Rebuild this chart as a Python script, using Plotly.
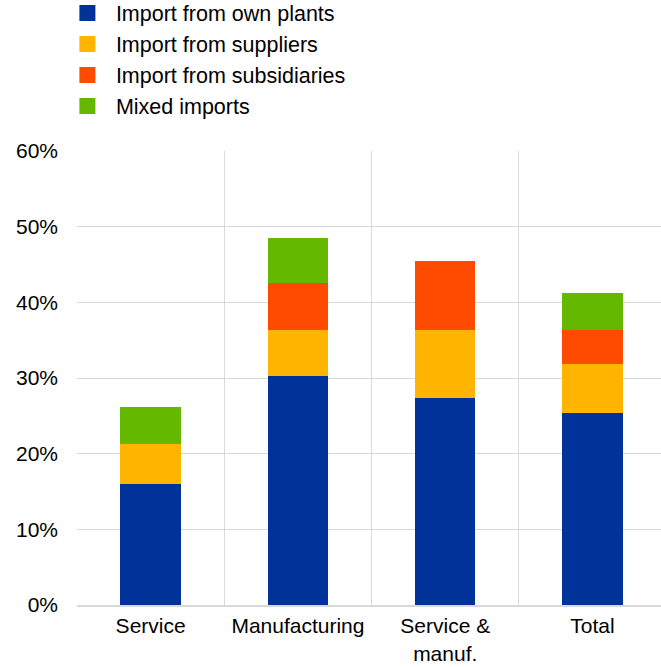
import plotly.graph_objects as go

# Share of firms importing, by sector and import channel (%)
categories = ["Service", "Manufacturing", "Service &<br>manuf.", "Total"]
own_plants = [16.0, 30.3, 27.3, 25.4]
suppliers = [5.3, 6.1, 9.1, 6.4]
subsidiaries = [0.0, 6.1, 9.1, 4.6]
mixed = [4.9, 6.0, 0.0, 4.9]

series = [
    ("Import from own plants", own_plants, "#003299"),
    ("Import from suppliers", suppliers, "#FFB400"),
    ("Import from subsidiaries", subsidiaries, "#FF4B00"),
    ("Mixed imports", mixed, "#65B800"),
]

font_family = "Arial, Liberation Sans, sans-serif"

fig = go.Figure()
for name, vals, color in series:
    fig.add_trace(go.Bar(
        x=categories, y=vals, name=name,
        marker=dict(color=color, line=dict(width=0)),
        width=0.41, legendgroup=name, showlegend=False,
    ))
    # square legend key for the series (larger than the default bar swatch)
    fig.add_trace(go.Scatter(
        x=[None], y=[None], mode="markers", name=name,
        marker=dict(symbol="square", size=16, color=color),
        legendgroup=name, showlegend=True, hoverinfo="skip",
    ))

fig.update_layout(
    width=661, height=667,
    barmode="stack",
    paper_bgcolor="white", plot_bgcolor="white",
    margin=dict(l=77, r=0, t=151, b=62, autoexpand=False),
    font=dict(family=font_family, color="#000000", size=20),
    legend=dict(
        x=-0.031, y=1.349, xanchor="left", yanchor="top",
        traceorder="grouped", tracegroupgap=0,
        font=dict(size=21.5), bgcolor="rgba(0,0,0,0)",
        itemwidth=47, itemsizing="trace",
    ),
    xaxis=dict(
        type="category", range=[-0.5, 3.465],
        tickson="boundaries", ticks="", showgrid=True,
        gridcolor="#d9d9d9", gridwidth=1,
        showline=True, linecolor="#d9d9d9", linewidth=2,
        tickfont=dict(size=21), ticklabelstandoff=1,
    ),
    yaxis=dict(
        range=[0, 60], dtick=10, ticksuffix="%",
        showgrid=True, gridcolor="#d9d9d9", gridwidth=1,
        zeroline=False, showline=False,
        tickfont=dict(size=21), ticklabelstandoff=18,
    ),
)

fig.write_html("out.html")
